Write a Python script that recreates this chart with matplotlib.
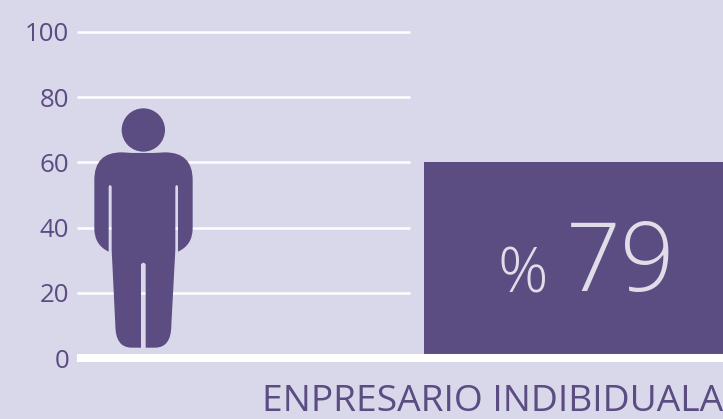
import matplotlib
matplotlib.use("Agg")
import matplotlib.pyplot as plt
from matplotlib.path import Path
from matplotlib.patches import PathPatch, Circle
from matplotlib.transforms import Affine2D

categories = ["ENPRESARIO INDIBIDUALA"]
bar_values = [60]
value_labels = ["79"]
y_ticks = [0, 20, 40, 60, 80, 100]

BG = "#d9d8ea"
PURPLE = "#5b4c82"
LIGHT = "#e0dde8"
W, H = 723, 419

plt.rcParams["font.family"] = ["Open Sans", "DejaVu Sans"]

fig = plt.figure(figsize=(W / 100, H / 100), dpi=100, facecolor=BG)
ax = fig.add_axes([77 / W, (H - 358) / H, (W - 77) / W, (358 - 32) / H], facecolor=BG)
ax.set_xlim(77, W)
ax.set_ylim(0, 100)
for s in ax.spines.values():
    s.set_visible(False)

# gridlines stop short of the bar, baseline runs full width
ax.hlines(y_ticks[1:], 77, 410, color="white", lw=1.8, zorder=1, clip_on=False)
ax.hlines(0, 77, W, color="white", lw=5.8, zorder=3, clip_on=False, capstyle="butt")

ax.bar([586], bar_values, width=324, color=PURPLE, zorder=2)

ax.set_yticks(y_ticks)
ax.set_yticklabels([str(t) for t in y_ticks], color=PURPLE, fontsize=18.6)
ax.tick_params(axis="y", length=0, pad=5.5)
ax.set_xticks([492.5])
ax.set_xticklabels(categories, color=PURPLE, fontsize=26.8)
ax.tick_params(axis="x", length=0, pad=18.5)

ax.text(522.5, 25.2, "%", color=LIGHT, fontsize=45, ha="center", va="center", fontweight="light", zorder=4)
ax.text(620.5, 28.2, value_labels[0], color=LIGHT, fontsize=69, ha="center", va="center", fontweight="light", zorder=4)

# pictogram outline, traced at 3x in image coordinates
M, L, C = Path.MOVETO, Path.LINETO, Path.CURVE3
body = [
    (M, (365, 217)), (C, (430, 222)), (C, (495, 217)),
    (C, (578, 217)), (C, (578, 300)), (L, (578, 445)),
    (C, (578, 495)), (C, (534, 515)), (L, (534, 320)),
    (C, (530, 310)), (C, (526, 320)), (L, (526, 510)),
    (L, (514, 735)), (C, (514, 803)), (C, (465, 803)),
    (L, (437, 803)), (L, (437, 553)), (C, (430, 543)), (C, (423, 553)),
    (L, (423, 803)), (L, (395, 803)), (C, (346, 803)), (C, (346, 735)),
    (L, (335, 510)), (L, (335, 320)), (C, (330, 310)), (C, (326, 320)),
    (L, (326, 515)), (C, (283, 495)), (C, (283, 445)), (L, (283, 300)),
    (C, (283, 217)), (C, (365, 217)), (Path.CLOSEPOLY, (365, 217)),
]
codes = [c for c, _ in body]
verts = [v for _, v in body]
to_px = Affine2D().scale(1 / 3, -1 / 3).translate(0, H - 80)
fig.add_artist(PathPatch(Path(verts, codes), facecolor=PURPLE, edgecolor="none", transform=to_px))
fig.add_artist(Circle((430, 150), 65, facecolor=PURPLE, edgecolor="none", transform=to_px))

fig.savefig("out.png", dpi=100, facecolor=BG)
